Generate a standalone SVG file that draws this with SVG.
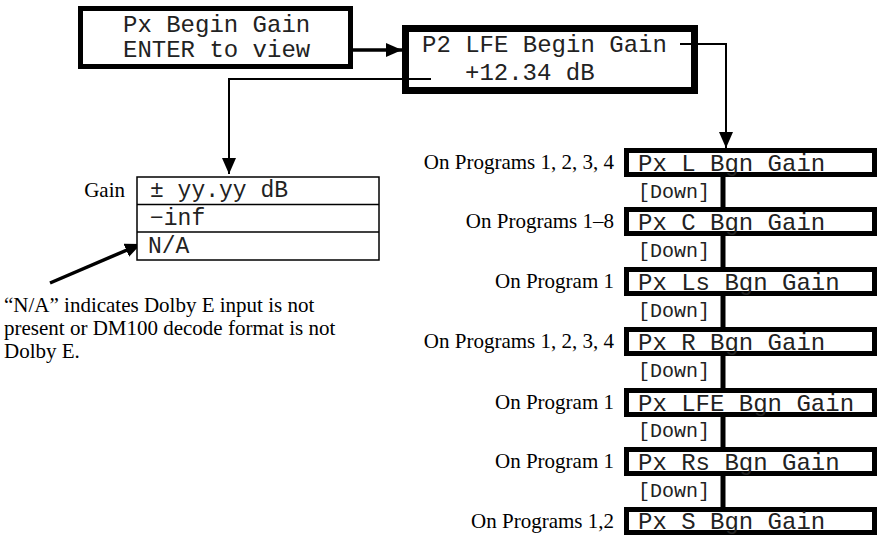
<svg xmlns="http://www.w3.org/2000/svg" width="883" height="535" viewBox="0 0 883 535">
<style>
.mono{font-family:"Liberation Mono","Courier New",monospace;fill:#222}
.serif{font-family:"Liberation Serif","Times New Roman",serif;fill:#000;font-size:21px}
.box{fill:#fff;stroke:#000}
.ln{fill:none;stroke:#000}
</style>
<defs>
<marker id="ah" markerUnits="userSpaceOnUse" markerWidth="16" markerHeight="14" refX="16" refY="7" orient="auto">
<path d="M0,0 L16,7 L0,14 Z" fill="#000"/>
</marker>
</defs>
<rect width="883" height="535" fill="#fff"/>

<g id="connectors">
<line class="ln" x1="338" y1="50" x2="402" y2="50" stroke-width="3.5" marker-end="url(#ah)"/>
<polyline class="ln" points="431,79 229,79 229,174" stroke-width="2" marker-end="url(#ah)"/>
<polyline class="ln" points="680,44 726,44 726,148" stroke-width="2" marker-end="url(#ah)"/>
<line class="ln" x1="50" y1="283" x2="141" y2="244" stroke-width="3.5" marker-end="url(#ah)"/>
<g stroke="#000" stroke-width="5">
<line x1="723" y1="176" x2="723" y2="208"/>
<line x1="723" y1="235" x2="723" y2="268"/>
<line x1="723" y1="295" x2="723" y2="328"/>
<line x1="723" y1="355" x2="723" y2="389"/>
<line x1="723" y1="416" x2="723" y2="448"/>
<line x1="723" y1="475" x2="723" y2="508"/>
</g>
</g>

<g id="node-begin">
<rect class="box" x="80.5" y="8.5" width="270" height="58" stroke-width="5"/>
<text class="mono" x="123" y="32" font-size="24">Px Begin Gain</text>
<text class="mono" x="123" y="57" font-size="24">ENTER to view</text>
</g>

<g id="node-p2">
<rect class="box" x="405.5" y="28.5" width="289" height="62" stroke-width="7"/>
<text class="mono" x="422" y="52" font-size="24">P2 LFE Begin Gain</text>
<text class="mono" x="465" y="80" font-size="24">+12.34 dB</text>
</g>
<line class="ln" x1="431" y1="79" x2="405" y2="79" stroke-width="2"/>
<line class="ln" x1="680" y1="44" x2="700" y2="44" stroke-width="2"/>

<g id="node-table">
<rect x="137" y="177" width="242" height="83" fill="#fff" stroke="#000" stroke-width="1.5"/>
<line class="ln" x1="137" y1="204.5" x2="379" y2="204.5" stroke-width="1.5"/>
<line class="ln" x1="137" y1="232" x2="379" y2="232" stroke-width="1.5"/>
<text class="serif" x="125" y="197" text-anchor="end">Gain</text>
<text class="mono" x="150" y="197" font-size="23">± yy.yy dB</text>
<text class="mono" x="150" y="225" font-size="23">−inf</text>
<text class="mono" x="148" y="253" font-size="23">N/A</text>
</g>

<g id="note">
<text class="serif" x="4" y="312">“N/A” indicates Dolby E input is not</text>
<text class="serif" x="4" y="335">present or DM100 decode format is not</text>
<text class="serif" x="4" y="358">Dolby E.</text>
</g>

<g id="node-L">
<rect class="box" x="626.5" y="150.5" width="248" height="24" stroke-width="5"/>
<text class="mono" x="638" y="171" font-size="24">Px L Bgn Gain</text>
<text class="serif" x="614" y="169" text-anchor="end">On Programs 1, 2, 3, 4</text>
</g>
<text class="mono" x="638" y="198" font-size="20">[Down]</text>

<g id="node-C">
<rect class="box" x="626.5" y="209.5" width="248" height="24" stroke-width="5"/>
<text class="mono" x="638" y="230" font-size="24">Px C Bgn Gain</text>
<text class="serif" x="614" y="228" text-anchor="end">On Programs 1–8</text>
</g>
<text class="mono" x="638" y="257" font-size="20">[Down]</text>

<g id="node-Ls">
<rect class="box" x="626.5" y="269.5" width="248" height="24" stroke-width="5"/>
<text class="mono" x="638" y="290" font-size="24">Px Ls Bgn Gain</text>
<text class="serif" x="614" y="288" text-anchor="end">On Program 1</text>
</g>
<text class="mono" x="638" y="317" font-size="20">[Down]</text>

<g id="node-R">
<rect class="box" x="626.5" y="329.5" width="248" height="24" stroke-width="5"/>
<text class="mono" x="638" y="350" font-size="24">Px R Bgn Gain</text>
<text class="serif" x="614" y="348" text-anchor="end">On Programs 1, 2, 3, 4</text>
</g>
<text class="mono" x="638" y="377" font-size="20">[Down]</text>

<g id="node-LFE">
<rect class="box" x="626.5" y="390.5" width="248" height="24" stroke-width="5"/>
<text class="mono" x="638" y="411" font-size="24">Px LFE Bgn Gain</text>
<text class="serif" x="614" y="409" text-anchor="end">On Program 1</text>
</g>
<text class="mono" x="638" y="437" font-size="20">[Down]</text>

<g id="node-Rs">
<rect class="box" x="626.5" y="449.5" width="248" height="24" stroke-width="5"/>
<text class="mono" x="638" y="470" font-size="24">Px Rs Bgn Gain</text>
<text class="serif" x="614" y="468" text-anchor="end">On Program 1</text>
</g>
<text class="mono" x="638" y="497" font-size="20">[Down]</text>

<g id="node-S">
<rect class="box" x="626.5" y="509.5" width="248" height="23" stroke-width="5"/>
<text class="mono" x="638" y="529" font-size="24">Px S Bgn Gain</text>
<text class="serif" x="614" y="528" text-anchor="end">On Programs 1,2</text>
</g>
</svg>
